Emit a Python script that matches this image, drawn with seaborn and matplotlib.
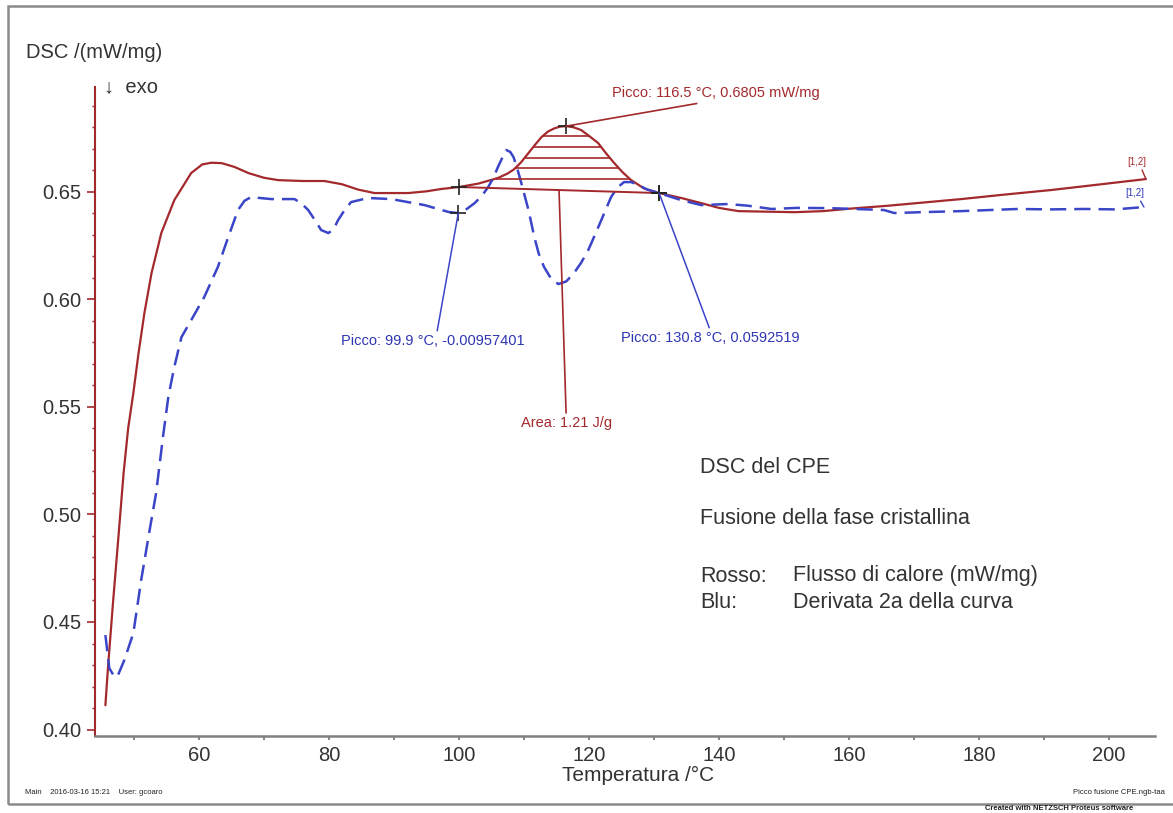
import numpy as np
import pandas as pd
import matplotlib
matplotlib.use("Agg")
import matplotlib.pyplot as plt
import seaborn as sns
from matplotlib.patches import Rectangle
from matplotlib.ticker import MultipleLocator, FormatStrFormatter

# ---------------- data ----------------
temp_red = [45.6, 46.0, 46.8, 47.6, 48.4, 49.1, 49.9, 50.7, 51.6, 52.7, 54.2, 56.2,
            58.8, 60.5, 61.9, 63.5, 65.5, 67.6, 70.0, 72.2, 76.0, 79.3, 82.0, 84.5,
            87.0, 92.2, 95.0, 97.3, 100.0, 103.0, 106.0, 107.5, 108.5, 109.5, 110.7,
            111.7, 112.7, 113.7, 114.7, 115.6, 116.5, 117.6, 118.8, 120.0, 121.4,
            122.6, 123.9, 125.2, 126.5, 128.5, 130.8, 134.2, 137.3, 140.0, 143.0,
            151.6, 156.0, 160.4, 166.0, 172.2, 177.3, 184.0, 191.1, 198.0, 205.7]
dsc_red = [0.4113, 0.4289, 0.4601, 0.4894, 0.5192, 0.5400, 0.5564, 0.5750, 0.5936,
           0.6122, 0.6308, 0.6461, 0.6587, 0.6627, 0.6635, 0.6633, 0.6615, 0.6587,
           0.6565, 0.6554, 0.6550, 0.6550, 0.6535, 0.6510, 0.6494, 0.6494, 0.6502,
           0.6513, 0.6522, 0.6538, 0.6564, 0.6585, 0.6605, 0.6635, 0.6680, 0.6718,
           0.6754, 0.6780, 0.6795, 0.6803, 0.6805, 0.6800, 0.6787, 0.6760, 0.6727,
           0.6680, 0.6633, 0.6590, 0.6554, 0.6515, 0.6494, 0.6471, 0.6447, 0.6425,
           0.6410, 0.6405, 0.6410, 0.6422, 0.6435, 0.6452, 0.6466, 0.6487, 0.6508,
           0.6532, 0.6559]

temp_blue = [45.6, 46.2, 46.8, 47.4, 48.5, 49.9, 51.1, 52.4, 53.4, 54.5, 55.3, 56.2,
             57.3, 58.8, 60.8, 62.9, 64.5, 66.0, 67.0, 68.0, 71.1, 74.7, 75.8, 76.8,
             77.8, 78.8, 79.9, 80.7, 81.4, 82.3, 83.4, 86.0, 89.6, 94.7, 98.4, 99.9,
             101.2, 102.4, 103.5, 104.5, 105.3, 106.0, 106.7, 107.3, 107.9, 108.4,
             109.0, 109.6, 110.7, 111.6, 112.3, 113.1, 114.2, 115.3, 116.5, 117.7,
             118.8, 119.9, 120.9, 121.9, 122.7, 123.4, 124.4, 125.4, 126.5, 127.6,
             129.0, 130.8, 134.2, 137.3, 141.4, 144.5, 148.1, 152.0, 156.8, 161.0,
             165.4, 167.0, 171.0, 177.3, 186.0, 191.0, 196.2, 201.0, 205.4]
deriv_blue = [0.4439, 0.4285, 0.4255, 0.4243, 0.4322, 0.4448, 0.4694, 0.4926, 0.5099,
              0.5370, 0.5550, 0.5685, 0.5824, 0.5903, 0.6010, 0.6150, 0.6289, 0.6415,
              0.6458, 0.6475, 0.6466, 0.6466, 0.6445, 0.6415, 0.6370, 0.6322, 0.6308,
              0.6325, 0.6368, 0.6410, 0.6452, 0.6471, 0.6466, 0.6438, 0.6406, 0.6401,
              0.6420, 0.6447, 0.6480, 0.6522, 0.6565, 0.6615, 0.6660, 0.6694, 0.6685,
              0.6661, 0.6605, 0.6540, 0.6415, 0.6289, 0.6210, 0.6150, 0.6095, 0.6071,
              0.6083, 0.6122, 0.6170, 0.6229, 0.6298, 0.6368, 0.6425, 0.6475, 0.6520,
              0.6545, 0.6545, 0.6531, 0.6510, 0.6494, 0.6461, 0.6438, 0.6443, 0.6435,
              0.6420, 0.6425, 0.6424, 0.6420, 0.6415, 0.6401, 0.6405, 0.6410, 0.6420,
              0.6418, 0.6420, 0.6418, 0.6429]

x_ticks = [60, 80, 100, 120, 140, 160, 180, 200]
y_ticks = [0.40, 0.45, 0.50, 0.55, 0.60, 0.65]

# characteristic points
peak_T, peak_val = 116.5, 0.6805
start_T, start_red = 100.0, 0.6522
blue_pk1_T, blue_pk1_val = 99.9, 0.6401
end_T, end_val = 130.8, 0.6494
hatch_step = 0.0049

peak_label = "Picco: 116.5 °C, 0.6805 mW/mg"
blue1_label = "Picco: 99.9 °C, -0.00957401"
blue2_label = "Picco: 130.8 °C, 0.0592519"
area_label = "Area: 1.21 J/g"

RED = "#A3292C"
BLUE = "#3A45C8"
BLUE_TXT = "#2E36B4"
GREY = "#333333"

# ---------------- figure ----------------
sns.set_theme(style="white")
plt.rcParams["font.family"] = ["Liberation Sans", "DejaVu Sans"]

W, H = 1173, 813
fig = plt.figure(figsize=(W / 100, H / 100), dpi=100)
ax = fig.add_axes([95 / W, 1 - 736 / H, 1060 / W, (736 - 87) / H])

df_red = pd.DataFrame({"T": temp_red, "DSC": dsc_red})
df_blue = pd.DataFrame({"T": temp_blue, "D2": deriv_blue})

sns.lineplot(data=df_red, x="T", y="DSC", color=RED, lw=1.6,
             estimator=None, sort=False, ax=ax)
sns.lineplot(data=df_blue, x="T", y="D2", color=BLUE, lw=1.8,
             estimator=None, sort=False, ax=ax, dashes=False)
ax.lines[-1].set_dashes((6.5, 3.2))

ax.set_xlim(44.0, 207.1)
ax.set_ylim(0.397, 0.6987)

# peak area: baseline + horizontal hatching derived from red curve
ax.plot([start_T, end_T], [start_red, end_val], color=RED, lw=1.4)
Tr = np.array(temp_red)
Yr = np.array(dsc_red)
rise = (Tr >= start_T) & (Tr <= peak_T)
fall = (Tr >= peak_T) & (Tr <= end_T)
lvl = max(start_red, end_val) + hatch_step * 0.8
while lvl < peak_val - 0.0008:
    tl = np.interp(lvl, Yr[rise], Tr[rise])
    tr = np.interp(lvl, Yr[fall][::-1], Tr[fall][::-1])
    ax.hlines(lvl, tl, tr, color=RED, lw=1.2)
    lvl += hatch_step

# crosses
ax.plot([start_T, peak_T, end_T], [start_red, peak_val, end_val], ls="none",
        marker="+", ms=11, mew=1.2, color="#222222")
ax.plot([blue_pk1_T, end_T], [blue_pk1_val, end_val], ls="none",
        marker="+", ms=11, mew=1.2, color="#222222")

# annotations
ann_fs = 10.5
ax.annotate(peak_label, xy=(peak_T, peak_val), xytext=(139.5, 0.6958),
            ha="center", va="center", color=RED, fontsize=ann_fs,
            arrowprops=dict(arrowstyle="-", color=RED, lw=1.2,
                            shrinkA=0, shrinkB=0, relpos=(0.5, 0.0)))
ax.annotate(blue1_label, xy=(blue_pk1_T, blue_pk1_val), xytext=(96.0, 0.5806),
            ha="center", va="center", color=BLUE_TXT, fontsize=ann_fs,
            arrowprops=dict(arrowstyle="-", color=BLUE, lw=1.1,
                            shrinkA=0, shrinkB=0, relpos=(0.52, 1.0)))
ax.annotate(blue2_label, xy=(end_T, end_val), xytext=(138.7, 0.5820),
            ha="center", va="center", color=BLUE_TXT, fontsize=ann_fs,
            arrowprops=dict(arrowstyle="-", color=BLUE, lw=1.1,
                            shrinkA=0, shrinkB=0, relpos=(0.5, 1.0)))
area_T = 115.4
area_base = np.interp(area_T, [start_T, end_T], [start_red, end_val])
ax.annotate(area_label, xy=(area_T, area_base), xytext=(116.5, 0.5424),
            ha="center", va="center", color=RED, fontsize=ann_fs,
            arrowprops=dict(arrowstyle="-", color=RED, lw=1.2,
                            shrinkA=0, shrinkB=0, relpos=(0.5, 1.0)))

# curve end tags
ax.annotate("[1,2]", xy=(temp_red[-1], dsc_red[-1]), xytext=(204.3, 0.6640),
            ha="center", va="center", color=RED, fontsize=7,
            arrowprops=dict(arrowstyle="-", color=RED, lw=1.0,
                            shrinkA=0, shrinkB=0, relpos=(0.7, 0.0)))
ax.annotate("[1,2]", xy=(temp_blue[-1], deriv_blue[-1]), xytext=(204.0, 0.6495),
            ha="center", va="center", color=BLUE_TXT, fontsize=7,
            arrowprops=dict(arrowstyle="-", color=BLUE, lw=1.0,
                            shrinkA=0, shrinkB=0, relpos=(0.7, 0.0)))

# axes styling
for s in ("top", "right"):
    ax.spines[s].set_visible(False)
ax.spines["left"].set_color(RED)
ax.spines["left"].set_linewidth(1.5)
ax.spines["bottom"].set_color("#808080")
ax.spines["bottom"].set_linewidth(1.8)

ax.set_xticks(x_ticks)
ax.set_yticks(y_ticks)
ax.yaxis.set_major_formatter(FormatStrFormatter("%.2f"))
ax.xaxis.set_minor_locator(MultipleLocator(10))
ax.yaxis.set_minor_locator(MultipleLocator(0.01))
ax.tick_params(axis="y", which="major", direction="out", length=6, width=1.2,
               color=RED, labelsize=14.5, labelcolor=GREY, pad=4, left=True)
ax.tick_params(axis="y", which="minor", direction="out", length=2.5, width=1.0,
               color=RED, left=True)
ax.tick_params(axis="x", which="both", direction="out", length=3, width=1.2,
               color="#707070", labelsize=14.5, labelcolor=GREY, pad=4, bottom=True)
ax.set_xlabel("")
ax.set_ylabel("")

# outside texts (figure coordinates)
def fx(px):
    return px / W

def fy(py):
    return 1 - py / H

fig.text(fx(26), fy(52), "DSC /(mW/mg)", fontsize=14.5, color=GREY,
         ha="left", va="center")
fig.text(fx(104), fy(87), "↓  exo", fontsize=14.5, color=GREY,
         ha="left", va="center")
fig.text(fx(638), fy(775), "Temperatura /°C", fontsize=15, color=GREY,
         ha="center", va="center")

tx = 700
fs_blk = 15.5
fig.text(fx(tx), fy(467), "DSC del CPE", fontsize=fs_blk, color=GREY, va="center")
fig.text(fx(tx), fy(518), "Fusione della fase cristallina", fontsize=fs_blk,
         color=GREY, va="center")
fig.text(fx(tx), fy(576), "Rosso:", fontsize=fs_blk, color=GREY, va="center")
fig.text(fx(793), fy(576), "Flusso di calore (mW/mg)", fontsize=fs_blk,
         color=GREY, va="center")
fig.text(fx(tx), fy(602), "Blu:", fontsize=fs_blk, color=GREY, va="center")
fig.text(fx(793), fy(602), "Derivata 2a della curva", fontsize=fs_blk,
         color=GREY, va="center")

fig.text(fx(25), fy(792), "Main    2016-03-16 15:21    User: gcoaro", fontsize=5.5,
         color="#222222", va="center")
fig.text(fx(1165), fy(792), "Picco fusione CPE.ngb-taa", fontsize=5.5,
         color="#222222", va="center", ha="right")
fig.text(fx(985), fy(808.5), "Created with NETZSCH Proteus software", fontsize=5.5,
         fontweight="bold", color="#222222", va="center", ha="left")

# page frame
fig.patches.append(Rectangle((fx(8), fy(804)), 1.2, (804 - 6) / H,
                             transform=fig.transFigure, fill=False,
                             edgecolor="#8a8a8a", lw=1.8, figure=fig))

fig.savefig("out.png", dpi=100)
